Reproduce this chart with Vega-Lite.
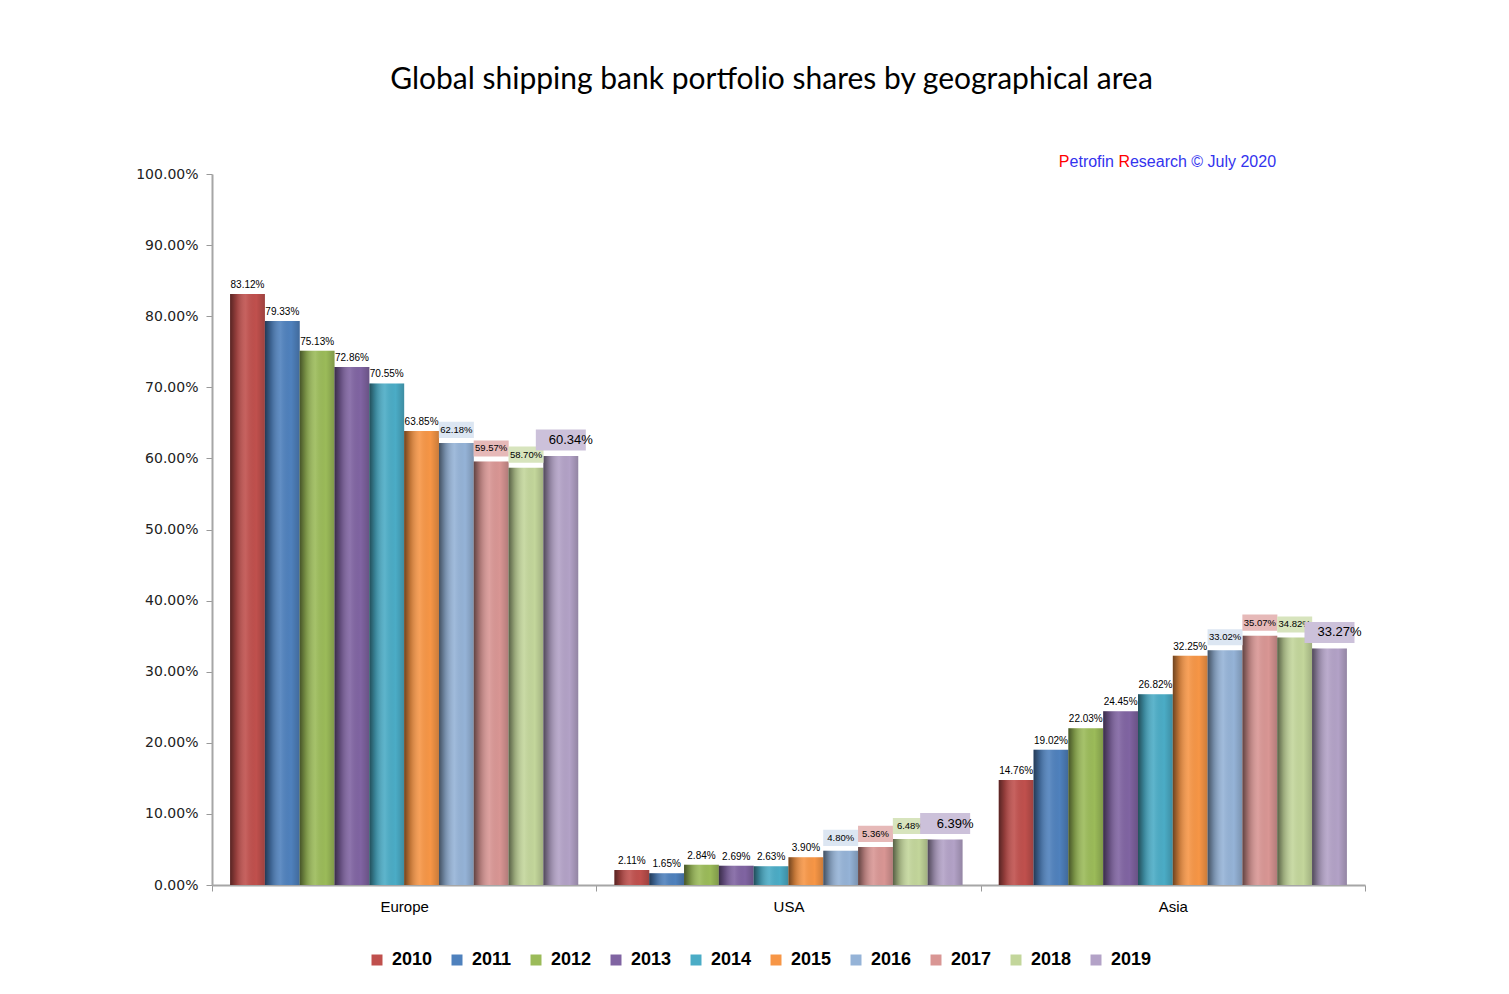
{
  "$schema": "https://vega.github.io/schema/vega-lite/v6.json",
  "width": 1153,
  "height": 711,
  "autosize": {"type": "none"},
  "padding": {"left": 212, "top": 174, "right": 144, "bottom": 109},
  "background": "white",
  "title": {
    "text": "Global shipping bank portfolio shares by geographical area",
    "font": "Lato",
    "fontSize": 30,
    "fontWeight": "normal",
    "color": "#000000",
    "anchor": "middle",
    "frame": "group",
    "offset": 59,
    "dx": -17
  },
  "config": {"view": {"stroke": null}},
  "data": {
    "values": [
      {"region": "Europe", "year": "2010", "share": 83.12},
      {"region": "Europe", "year": "2011", "share": 79.33},
      {"region": "Europe", "year": "2012", "share": 75.13},
      {"region": "Europe", "year": "2013", "share": 72.86},
      {"region": "Europe", "year": "2014", "share": 70.55},
      {"region": "Europe", "year": "2015", "share": 63.85},
      {"region": "Europe", "year": "2016", "share": 62.18},
      {"region": "Europe", "year": "2017", "share": 59.57},
      {"region": "Europe", "year": "2018", "share": 58.70},
      {"region": "Europe", "year": "2019", "share": 60.34},
      {"region": "USA", "year": "2010", "share": 2.11},
      {"region": "USA", "year": "2011", "share": 1.65},
      {"region": "USA", "year": "2012", "share": 2.84},
      {"region": "USA", "year": "2013", "share": 2.69},
      {"region": "USA", "year": "2014", "share": 2.63},
      {"region": "USA", "year": "2015", "share": 3.90},
      {"region": "USA", "year": "2016", "share": 4.80},
      {"region": "USA", "year": "2017", "share": 5.36},
      {"region": "USA", "year": "2018", "share": 6.48},
      {"region": "USA", "year": "2019", "share": 6.39},
      {"region": "Asia", "year": "2010", "share": 14.76},
      {"region": "Asia", "year": "2011", "share": 19.02},
      {"region": "Asia", "year": "2012", "share": 22.03},
      {"region": "Asia", "year": "2013", "share": 24.45},
      {"region": "Asia", "year": "2014", "share": 26.82},
      {"region": "Asia", "year": "2015", "share": 32.25},
      {"region": "Asia", "year": "2016", "share": 33.02},
      {"region": "Asia", "year": "2017", "share": 35.07},
      {"region": "Asia", "year": "2018", "share": 34.82},
      {"region": "Asia", "year": "2019", "share": 33.27}
    ]
  },
  "encoding": {
    "x": {
      "field": "region",
      "type": "nominal",
      "scale": {"domain": ["Europe", "USA", "Asia"], "paddingInner": 0, "paddingOuter": 0},
      "axis": {
        "title": null,
        "labelAngle": 0,
        "labelFont": "Liberation Sans",
        "labelFontSize": 15,
        "labelColor": "#000000",
        "labelPadding": 8,
        "tickBand": "extent",
        "tickSize": 6,
        "tickColor": "#999999",
        "domainColor": "#a6a6a6",
        "domainWidth": 2
      }
    },
    "y": {
      "field": "share",
      "type": "quantitative",
      "scale": {"domain": [0, 100], "nice": false},
      "axis": {
        "title": null,
        "values": [0, 10, 20, 30, 40, 50, 60, 70, 80, 90, 100],
        "labelExpr": "format(datum.value, '.2f') + '%'",
        "labelFont": "DejaVu Sans",
        "labelFontSize": 14,
        "labelColor": "#222222",
        "labelPadding": 8,
        "tickSize": 6,
        "tickColor": "#999999",
        "domainColor": "#a6a6a6",
        "domainWidth": 2,
        "grid": false
      }
    }
  },
  "layer": [
    {
      "mark": {"type": "bar"},
      "encoding": {
        "xOffset": {"field": "year", "type": "nominal", "scale": {"paddingOuter": 0.52, "paddingInner": 0}},
        "color": {
          "field": "year",
          "type": "nominal",
          "scale": {
            "domain": ["2010", "2011", "2012", "2013", "2014", "2015", "2016", "2017", "2018", "2019"],
            "range": ["#C0504D", "#4F81BD", "#9BBB59", "#8064A2", "#4BACC6", "#F79646", "#95B3D7", "#D99694", "#C3D69B", "#B3A2C7"]
          },
          "legend": {
            "orient": "none",
            "legendX": 156,
            "legendY": 777,
            "direction": "horizontal",
            "title": null,
            "symbolType": "square",
            "symbolSize": 121,
            "symbolStrokeWidth": 0,
            "labelFont": "Liberation Sans",
            "labelFontSize": 18,
            "labelFontWeight": "bold",
            "labelColor": "#000000",
            "labelOffset": 6,
            "columnPadding": 15
          }
        }
      }
    },
    {
      "mark": {
        "type": "bar",
        "color": {
          "gradient": "linear",
          "x1": 0, "y1": 0, "x2": 1, "y2": 0,
          "stops": [
            {"offset": 0, "color": "rgba(0,0,0,0.55)"},
            {"offset": 0.18, "color": "rgba(0,0,0,0.22)"},
            {"offset": 0.45, "color": "rgba(255,255,255,0.10)"},
            {"offset": 0.75, "color": "rgba(0,0,0,0)"},
            {"offset": 1, "color": "rgba(0,0,0,0.18)"}
          ]
        }
      },
      "encoding": {
        "xOffset": {"field": "year", "type": "nominal"}
      }
    },
    {
      "transform": [
        {"filter": "datum.year < '2016'"},
        {"calculate": "format(datum.share, '.2f') + '%'", "as": "label"}
      ],
      "mark": {"type": "text", "font": "Liberation Sans", "fontSize": 10, "baseline": "bottom", "dy": -4, "color": "#000000"},
      "encoding": {
        "xOffset": {"field": "year", "type": "nominal"},
        "text": {"field": "label"}
      }
    },
    {
      "transform": [{"filter": "datum.year >= '2016' && datum.year < '2019'"}],
      "mark": {"type": "point", "shape": "M-1,-0.46H1V0.46H-1Z", "size": 1225, "filled": true, "opacity": 1, "strokeWidth": 0, "yOffset": -13},
      "encoding": {
        "xOffset": {"field": "year", "type": "nominal"},
        "fill": {
          "field": "year",
          "type": "nominal",
          "scale": {"domain": ["2016", "2017", "2018", "2019"], "range": ["#DCE6F2", "#E6B9B8", "#D7E4BD", "#CCC1DA"]},
          "legend": null
        }
      }
    },
    {
      "transform": [
        {"filter": "datum.year >= '2016' && datum.year < '2019'"},
        {"calculate": "format(datum.share, '.2f') + '%'", "as": "label"}
      ],
      "mark": {"type": "text", "font": "Liberation Sans", "fontSize": 9.5, "baseline": "middle", "dy": -13, "color": "#000000"},
      "encoding": {
        "xOffset": {"field": "year", "type": "nominal"},
        "text": {"field": "label"}
      }
    },
    {
      "transform": [{"filter": "datum.year == '2019'"}],
      "mark": {"type": "point", "shape": "M-1,-0.42H1V0.42H-1Z", "size": 2500, "filled": true, "opacity": 1, "strokeWidth": 0, "yOffset": -16, "xOffset": 10},
      "encoding": {
        "xOffset": {"field": "year", "type": "nominal"},
        "fill": {"field": "year", "type": "nominal", "legend": null}
      }
    },
    {
      "transform": [
        {"filter": "datum.year == '2019'"},
        {"calculate": "format(datum.share, '.2f') + '%'", "as": "label"}
      ],
      "mark": {"type": "text", "font": "Liberation Sans", "fontSize": 13, "baseline": "middle", "dy": -16, "dx": 10, "color": "#000000"},
      "encoding": {
        "xOffset": {"field": "year", "type": "nominal"},
        "text": {"field": "label"}
      }
    },
    {
      "transform": [{"filter": "datum.region == 'Asia' && datum.year == '2019'"}],
      "mark": {"type": "text", "text": "P", "font": "Liberation Sans", "fontSize": 16, "align": "left", "baseline": "middle", "dx": -114, "color": "#FF0000"},
      "encoding": {"x": {"field": "region", "type": "nominal"}, "y": {"datum": 101.7, "type": "quantitative"}}
    },
    {
      "transform": [{"filter": "datum.region == 'Asia' && datum.year == '2019'"}],
      "mark": {"type": "text", "text": "etrofin", "font": "Liberation Sans", "fontSize": 16, "align": "left", "baseline": "middle", "dx": -103.3, "color": "#3333EE"},
      "encoding": {"x": {"field": "region", "type": "nominal"}, "y": {"datum": 101.7, "type": "quantitative"}}
    },
    {
      "transform": [{"filter": "datum.region == 'Asia' && datum.year == '2019'"}],
      "mark": {"type": "text", "text": "R", "font": "Liberation Sans", "fontSize": 16, "align": "left", "baseline": "middle", "dx": -54.4, "color": "#FF0000"},
      "encoding": {"x": {"field": "region", "type": "nominal"}, "y": {"datum": 101.7, "type": "quantitative"}}
    },
    {
      "transform": [{"filter": "datum.region == 'Asia' && datum.year == '2019'"}],
      "mark": {"type": "text", "text": "esearch © July 2020", "font": "Liberation Sans", "fontSize": 16, "align": "left", "baseline": "middle", "dx": -42.9, "color": "#3333EE"},
      "encoding": {"x": {"field": "region", "type": "nominal"}, "y": {"datum": 101.7, "type": "quantitative"}}
    }
  ]
}
